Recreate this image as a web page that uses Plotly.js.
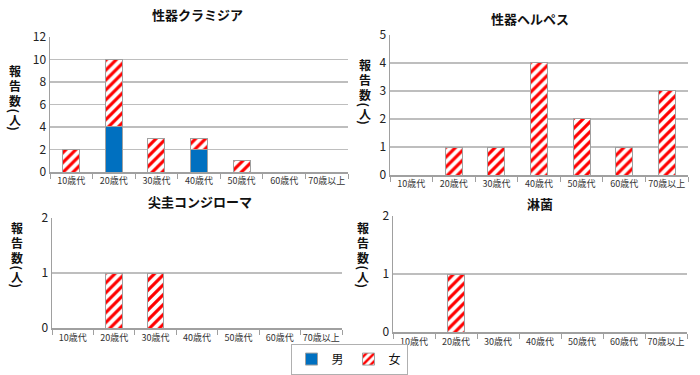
<!DOCTYPE html>
<html><head><meta charset="utf-8">
<script src="https://cdn.plot.ly/plotly-3.0.1.min.js"></script>
<style>body{margin:0;padding:0;background:#fff}#c{width:700px;height:375px}</style>
</head><body><div id="c"></div>
<script>
const ages = ["10歳代","20歳代","30歳代","40歳代","50歳代","60歳代","70歳以上"];
const chlamydiaMale   = [0,4,0,2,0,0,0];
const chlamydiaFemale = [2,6,3,1,1,0,0];
const herpesMale      = [0,0,0,0,0,0,0];
const herpesFemale    = [0,1,1,4,2,1,3];
const condylomaMale   = [0,0,0,0,0,0,0];
const condylomaFemale = [0,1,1,0,0,0,0];
const gonorrheaMale   = [0,0,0,0,0,0,0];
const gonorrheaFemale = [0,1,0,0,0,0,0];
const titles = ["性器クラミジア","性器ヘルペス","尖圭コンジローマ","淋菌"];
const seriesNames = ["男","女"];
const yTitleChars = ["報","告","数","(","人",")"];

const F = '"Noto Sans CJK JP", "Noto Sans", sans-serif';
const maleColor = '#0070C0';
const sets = [[chlamydiaMale,chlamydiaFemale],[herpesMale,herpesFemale],[condylomaMale,condylomaFemale],[gonorrheaMale,gonorrheaFemale]];
const traces = [];
sets.forEach((s,i)=>{
  const xa = i===0?'x':'x'+(i+1), ya = i===0?'y':'y'+(i+1);
  traces.push({type:'bar',x:ages,y:s[0],name:seriesNames[0],xaxis:xa,yaxis:ya,showlegend:i===0,legendgroup:'m',
    marker:{color:maleColor,line:{color:'#A0A0A0',width:1}}});
  traces.push({type:'bar',x:ages,y:s[1],name:seriesNames[1],xaxis:xa,yaxis:ya,showlegend:i===0,legendgroup:'f',
    marker:{color:'#FFFFFF',line:{color:'#A0A0A0',width:1},pattern:{shape:'/',fgcolor:'#FF0000',bgcolor:'#FFFFFF',size:7,solidity:0.45}}});
});

const W=700,H=375;
const px = (a,b)=>[a/W,b/W];
const py = (top,bot)=>[1-bot/H,1-top/H];
function xax(dom,anchor){return {domain:dom,anchor:anchor,type:'category',showline:true,linecolor:'#A0A0A0',linewidth:1.5,
  ticks:'outside',tickson:'boundaries',ticklen:5,tickcolor:'#A0A0A0',showgrid:false,tickangle:0,
  tickfont:{family:F,size:9,color:'#333'},fixedrange:true};}
function yax(dom,anchor,max,dt){return {domain:dom,anchor:anchor,range:[0,max],dtick:dt,showline:true,linecolor:'#A0A0A0',linewidth:1.5,
  showgrid:true,gridcolor:'#BEBEBE',gridwidth:1.5,zeroline:false,ticks:'',ticklen:0,
  tickfont:{family:F,size:12,color:'#222'},fixedrange:true};}

function ann(text,x,y,size,bold,angle){return {text:bold?'<b>'+text+'</b>':text,x:x/W,y:1-y/H,xref:'paper',yref:'paper',showarrow:false,
  xanchor:'center',yanchor:'middle',textangle:angle||0,borderpad:0,font:{family:F,size:size,color:'#111'}};}
const offs = [0,15,30,40,49,58];
function ylabel(x,y0){
  return yTitleChars.map((c,k)=>ann(c,x,y0+offs[k],12,true,(c==='('||c===')')?90:0));
}

const layout = {
  width:W,height:H,margin:{l:0,r:0,t:0,b:0},paper_bgcolor:'#fff',plot_bgcolor:'#fff',
  barmode:'stack',bargap:0.6,
  font:{family:F},
  xaxis:xax(px(50,348),'y'), yaxis:yax(py(37,173),'x',12,2),
  xaxis2:xax(px(390,688),'y2'), yaxis2:yax(py(35,176),'x2',5,1),
  xaxis3:xax(px(52,342),'y3'), yaxis3:yax(py(219,330),'x3',2,1),
  xaxis4:xax(px(393,687),'y4'), yaxis4:yax(py(217,334),'x4',2,1),
  legend:{orientation:'h',x:349/W,y:1-361/H,xanchor:'center',yanchor:'middle',bordercolor:'#B0B0B0',borderwidth:1,
    font:{family:F,size:12,color:'#111'},traceorder:'normal',itemwidth:30,bgcolor:'#fff'},
  annotations:[
    ann(titles[0],197,15,13,true), ann(titles[1],530,19,13,true),
    ann(titles[2],200,203,13,true), ann(titles[3],540,205,13,true)
  ].concat(ylabel(15,71), ylabel(365,65), ylabel(17,229), ylabel(363,229))
};
Plotly.newPlot('c',traces,layout,{displayModeBar:false,staticPlot:true});
</script></body></html>
